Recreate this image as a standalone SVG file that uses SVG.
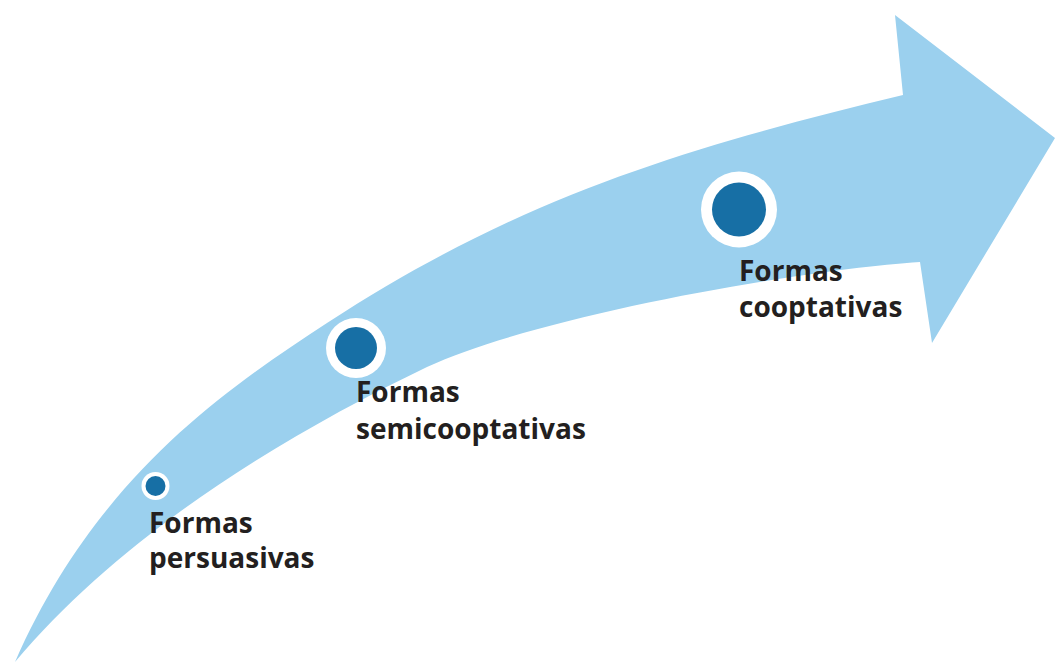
<svg xmlns="http://www.w3.org/2000/svg" width="1055" height="662" viewBox="0 0 1055 662">
<style>
.lbl{font-family:"Open Sans","Liberation Sans",sans-serif;font-weight:700;font-size:28px;fill:#231f20}
.ring{fill:#ffffff}
.dot{fill:#176fa5}
</style>
<rect width="1055" height="662" fill="#ffffff"/>
<g id="arrow">
<path d="M15,662 C95,480 220,393 327,323 C526,193 697,145 903,95 L895,15 L1055,138 L932,343 L920,262 C800,270 540,315 427,367 C275,440 119,538 15,662 Z" fill="#9bd0ee"/>
</g>
<g id="node-persuasivas">
<circle class="ring" cx="155.5" cy="486" r="14"/>
<circle class="dot" cx="155.5" cy="486" r="10"/>
<text class="lbl" x="149" y="533">Formas</text>
<text class="lbl" x="149" y="568">persuasivas</text>
</g>
<g id="node-semicooptativas">
<circle class="ring" cx="356" cy="348" r="30"/>
<circle class="dot" cx="356" cy="348" r="21"/>
<text class="lbl" x="356" y="402">Formas</text>
<text class="lbl" x="356" y="439">semicooptativas</text>
</g>
<g id="node-cooptativas">
<circle class="ring" cx="739" cy="209.5" r="38"/>
<circle class="dot" cx="739" cy="209.5" r="27"/>
<text class="lbl" x="739" y="281">Formas</text>
<text class="lbl" x="739" y="317">cooptativas</text>
</g>
</svg>
